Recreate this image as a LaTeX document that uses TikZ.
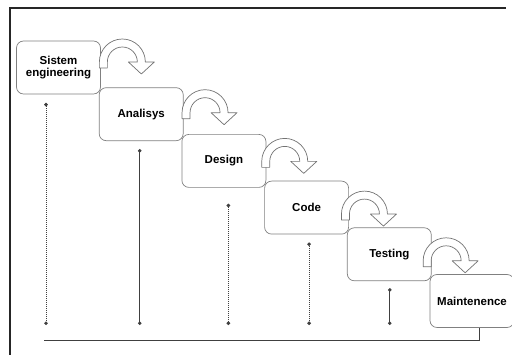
\documentclass[tikz,border=0pt]{standalone}
\usepackage{fontspec}
\setmainfont{Liberation Sans}
\usetikzlibrary{positioning,arrows.meta}

\begin{document}
\begin{tikzpicture}[x=1pt,y=1pt,
  stage/.style = {draw=black!50, fill=white, line width=0.7pt, rounded corners=7pt, minimum width=84pt, minimum height=53pt, inner sep=2pt, align=center, font=\bfseries\fontsize{11.5}{12.5}\selectfont},
  tie/.style = {draw=black!75, dash pattern=on 1.5pt off 0.5pt, line width=0.8pt, {Circle[length=3.5pt]}-{Circle[length=3.5pt]}},
  link/.style = {draw=black!75, dash pattern=on 1.5pt off 0.5pt, line width=0.8pt},
  curl/.pic = {\draw[draw=black!55, fill=white, line width=0.7pt, line join=round] (-23,-6) -- (-23,0) arc[start angle=180, end angle=0, radius=23pt] -- (32,0) -- (19,-12) -- (6,0) -- (15,0) arc[start angle=0, end angle=180, radius=15pt] -- (-15,-6) -- cycle;}]
\useasboundingbox (0,0) rectangle (512,355);
\draw[line width=2pt, black!85] (10,0) -- (10,347) -- (506,347);
\node[stage] (sys) at (58.5,287.5) {Sistem\\engineering};
\node[stage] (ana) [below right=-7pt and -2pt of sys] {Analisys};
\node[stage] (des) [below right=-7pt and -2pt of ana] {Design};
\node[stage] (code) [below right=-7pt and -2pt of des] {Code};
\node[stage] (test) [below right=-7pt and -2pt of code] {Testing};
\node[stage] (maint) [below right=-7pt and -2pt of test] {Maintenence};
\pic at ([shift={(21.5pt,5.5pt)}]sys.east) {curl};
\pic at ([shift={(21.5pt,1.5pt)}]ana.east) {curl};
\pic at ([shift={(18.5pt,-0.5pt)}]des.east) {curl};
\pic at ([shift={(15.5pt,-6.5pt)}]code.east) {curl};
\pic at ([shift={(14.5pt,-6.5pt)}]test.east) {curl};
\coordinate (base) at (0,30);
\coordinate (t1) at ([shift={(-12.5pt,-8.5pt)}]sys.south);
\coordinate (t2) at ([shift={(-1.5pt,-8pt)}]ana.south);
\coordinate (t3) at ([shift={(4.5pt,-16pt)}]des.south);
\coordinate (t4) at ([shift={(2.5pt,-8pt)}]code.south);
\coordinate (t5) at ([shift={(0.5pt,-7pt)}]test.south);
\draw[tie] (t1) -- (t1 |- base);
\draw[tie] (t2) -- (t2 |- base);
\draw[tie] (t3) -- (t3 |- base);
\draw[tie] (t4) -- (t4 |- base);
\draw[tie] (t5) -- (t5 |- base);
\coordinate (foot) at (44,15);
\draw[link] (foot) -| ([xshift=7pt]maint.south);
\end{tikzpicture}
\end{document}
